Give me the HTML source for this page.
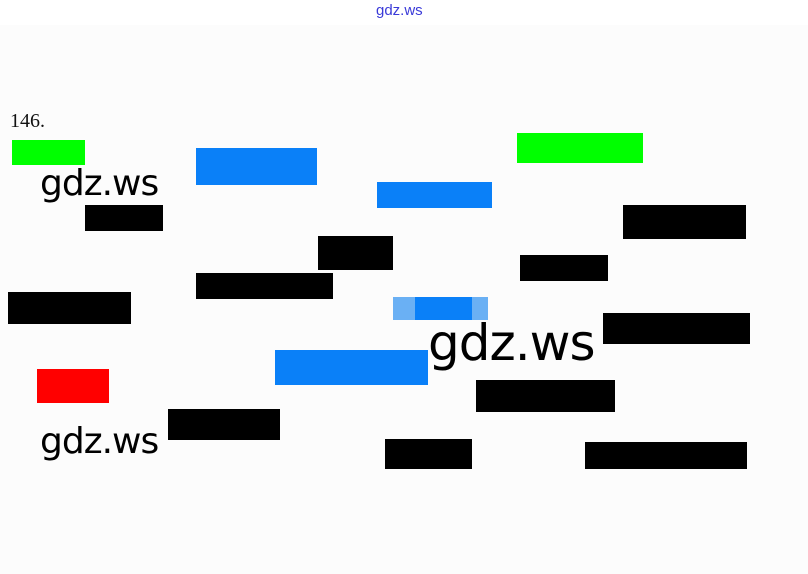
<!DOCTYPE html>
<html><head><style>
body{margin:0;width:808px;height:574px;background:#fcfcfc;position:relative;overflow:hidden;font-family:"Liberation Sans",sans-serif}
.r{position:absolute}
.k{background:#000}
.b{background:#0a80f8}
.g{background:#00ff00}
.w{position:absolute;font-family:"DejaVu Sans","Liberation Sans",sans-serif;color:#000;line-height:1;letter-spacing:-1px}
</style></head><body>
<div class="r" style="left:0;top:0;width:808px;height:25px;background:#fff"></div>
<div class="r" style="left:376px;top:2px;font-size:15px;color:#3a3ad8;">gdz.ws</div>
<div class="r" style="left:10px;top:110px;font-family:'Liberation Serif',serif;font-size:20px;color:#111">146.</div>
<div class="r g" style="left:12px;top:140px;width:73px;height:25px"></div>
<div class="r b" style="left:196px;top:148px;width:121px;height:37px"></div>
<div class="r g" style="left:517px;top:133px;width:126px;height:30px"></div>
<div class="r b" style="left:377px;top:182px;width:115px;height:26px"></div>
<div class="r k" style="left:85px;top:205px;width:78px;height:26px"></div>
<div class="r k" style="left:623px;top:205px;width:123px;height:34px"></div>
<div class="r k" style="left:318px;top:236px;width:75px;height:34px"></div>
<div class="r k" style="left:520px;top:255px;width:88px;height:26px"></div>
<div class="r k" style="left:196px;top:273px;width:137px;height:26px"></div>
<div class="r k" style="left:8px;top:292px;width:123px;height:32px"></div>
<div class="r" style="left:393px;top:297px;width:95px;height:23px;background:#6ab0f4"></div>
<div class="r b" style="left:415px;top:297px;width:57px;height:23px"></div>
<div class="r k" style="left:603px;top:313px;width:147px;height:31px"></div>
<div class="r b" style="left:275px;top:350px;width:153px;height:35px"></div>
<div class="r" style="left:37px;top:369px;width:72px;height:34px;background:#ff0000"></div>
<div class="r k" style="left:476px;top:380px;width:139px;height:32px"></div>
<div class="r k" style="left:168px;top:409px;width:112px;height:31px"></div>
<div class="r k" style="left:385px;top:439px;width:87px;height:30px"></div>
<div class="r k" style="left:585px;top:442px;width:162px;height:27px"></div>
<div class="w" style="left:40px;top:166px;font-size:36px">gdz.ws</div>
<div class="w" style="left:428px;top:318px;font-size:50px">gdz.ws</div>
<div class="w" style="left:40px;top:424px;font-size:36px">gdz.ws</div>
</body></html>
